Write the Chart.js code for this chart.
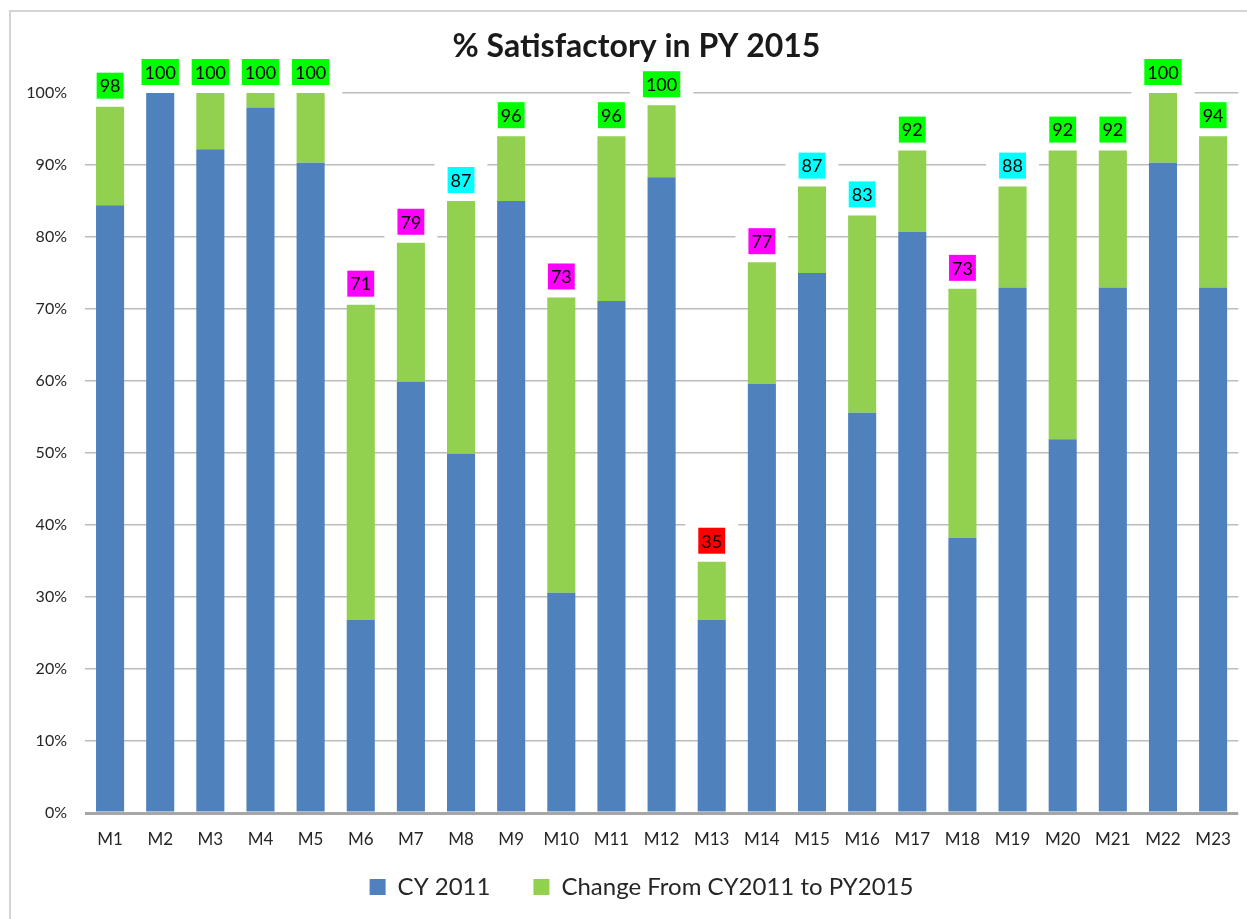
<!DOCTYPE html>
<html>
<head>
<meta charset="utf-8">
<title>% Satisfactory in PY 2015</title>
<script src="https://cdn.jsdelivr.net/npm/chart.js@4.4.1/dist/chart.umd.min.js"></script>
<style>
  html, body { margin: 0; padding: 0; background: #fff; }
</style>
</head>
<body>
<canvas id="satChart" width="1247" height="919"></canvas>
<script>
// Measures on the x axis
const measures = ["M1", "M2", "M3", "M4", "M5", "M6", "M7", "M8", "M9", "M10", "M11", "M12",
                  "M13", "M14", "M15", "M16", "M17", "M18", "M19", "M20", "M21", "M22", "M23"];

// Blue part: CY 2011 (%)
const cy2011 = [84.4, 100, 92.2, 98, 90.3, 26.8, 59.9, 49.9, 85, 30.6, 71.1, 88.3,
                26.8, 59.6, 75, 55.6, 80.7, 38.2, 73, 51.9, 73, 90.3, 73];

// Green part: change from CY2011 to PY2015 (%)
const change = [13.7, 0, 7.8, 2, 9.7, 43.8, 19.3, 35.1, 9, 41, 22.9, 10,
                8.1, 16.9, 12, 27.4, 11.3, 34.6, 14, 40.1, 19, 9.7, 21];

// PY 2015 values printed above each bar
const py2015 = [98, 100, 100, 100, 100, 71, 79, 87, 96, 73, 96, 100,
                35, 77, 87, 83, 92, 73, 88, 92, 92, 100, 94];

// y axis ticks
const yMin = 0, yMax = 100, yStep = 10;

function labelColor(v) {
    if (v >= 90) return "#00FF00";
    if (v >= 80) return "#00FFFF";
    if (v >= 70) return "#FF00FF";
    return "#FF0000";
}

// where the value boxes go, from the top of each stack
function valueBoxes(chart) {
    const ctx = chart.ctx;
    ctx.save();
    ctx.font = "18px Lato";
    const boxes = chart.getDatasetMeta(1).data.map((bar, i) => {
        const text = String(py2015[i]);
        const w = ctx.measureText(text).width + 6;
        const h = 26;
        return { x: bar.x - w / 2, y: bar.y - 8 - h, w: w, h: h, text: text, value: py2015[i] };
    });
    ctx.restore();
    return boxes;
}

const valueLabels = {
    id: "valueLabels",
    beforeDatasetsDraw(chart) {
        // gridlines are broken behind the labels in the original
        const ctx = chart.ctx;
        ctx.save();
        ctx.fillStyle = "#ffffff";
        valueBoxes(chart).forEach(b => {
            ctx.fillRect(b.x - 13, b.y - 6, b.w + 26, b.h + 15);
        });
        ctx.restore();
    },
    afterDatasetsDraw(chart) {
        const ctx = chart.ctx;
        ctx.save();
        ctx.font = "18px Lato";
        ctx.textAlign = "center";
        ctx.textBaseline = "middle";
        valueBoxes(chart).forEach(b => {
            ctx.fillStyle = labelColor(b.value);
            ctx.fillRect(b.x, b.y, b.w, b.h);
            ctx.fillStyle = "#000000";
            ctx.fillText(b.text, b.x + b.w / 2, b.y + b.h / 2 + 1);
        });
        ctx.restore();
    }
};

const frame = {
    id: "frame",
    beforeDraw(chart) {
        const ctx = chart.ctx;
        ctx.save();
        ctx.fillStyle = "#ffffff";
        ctx.fillRect(0, 0, chart.width, chart.height);
        ctx.strokeStyle = "#d4d4d4";
        ctx.lineWidth = 2;
        ctx.strokeRect(10, 11, 1400, 1000);
        ctx.restore();
    }
};

// title and legend are not centred on the canvas in the original
function shiftBox(box, dx, dy) {
    box.left += dx; box.right += dx;
    box.top += dy; box.bottom += dy;
}
const nudge = {
    id: "nudge",
    afterLayout(chart) {
        shiftBox(chart.titleBlock, 16, 0);
        shiftBox(chart.legend, 21, -17);
    }
};

const ctx = document.getElementById("satChart").getContext("2d");
const satChart = new Chart(ctx, {
    type: "bar",
    data: {
        labels: measures,
        datasets: [{
            label: "CY 2011",
            data: cy2011,
            backgroundColor: "#4F81BD",
            borderWidth: 0,
            barPercentage: 0.56,
            categoryPercentage: 1
        }, {
            label: "Change From CY2011 to PY2015",
            data: change,
            backgroundColor: "#92D050",
            borderWidth: 0,
            barPercentage: 0.56,
            categoryPercentage: 1
        }]
    },
    options: {
        responsive: false,
        animation: false,
        layout: { padding: { left: 0, right: 6, top: 0, bottom: 0 } },
        scales: {
            x: {
                stacked: true,
                grid: { display: false, drawTicks: false },
                border: { display: false },
                ticks: { color: "#262626", font: { family: "Lato", size: 17 }, padding: 16 },
                afterFit(scale) { scale.height = 36; }
            },
            y: {
                stacked: true,
                min: yMin,
                max: yMax,
                border: { display: false },
                grid: {
                    color: c => c.tick.value === 0 ? "#a6a6a6" : "#bcbcbc",
                    lineWidth: c => c.tick.value === 0 ? 3 : 1.5,
                    drawTicks: false
                },
                ticks: {
                    stepSize: yStep,
                    padding: 18,
                    color: "#262626",
                    font: { family: "Lato", size: 16 },
                    callback: v => v + "%"
                },
                afterFit(scale) { scale.width = 85; }
            }
        },
        plugins: {
            title: {
                display: true,
                text: "% Satisfactory in PY 2015",
                color: "#1a1a1a",
                font: { family: "Lato", size: 32, weight: "bold" },
                padding: { top: 27.8, bottom: 26.8 }
            },
            legend: {
                position: "bottom",
                maxHeight: 70,
                labels: {
                    color: "#262626",
                    font: { family: "Lato", size: 24 },
                    boxWidth: 16,
                    boxHeight: 16,
                    padding: 43
                }
            },
            tooltip: { enabled: false }
        }
    },
    plugins: [frame, valueLabels, nudge]
});
</script>
</body>
</html>
